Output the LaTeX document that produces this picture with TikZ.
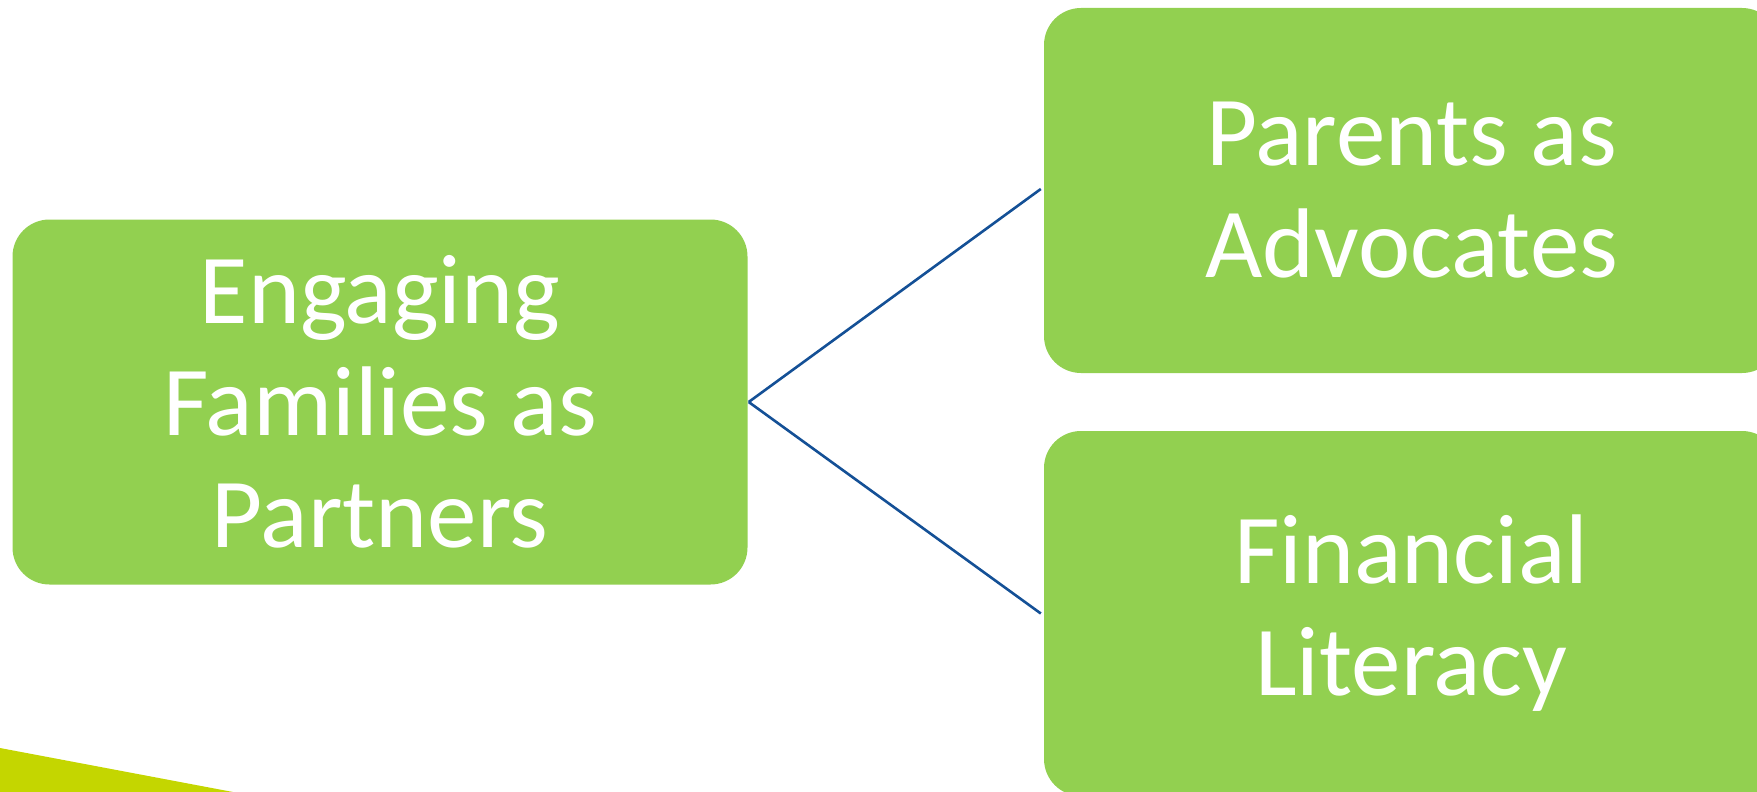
\documentclass[tikz,border=0pt]{standalone}
\usepackage{fontspec}
\setmainfont{Carlito}
\definecolor{boxgreen}{RGB}{146,208,80}
\definecolor{linkblue}{RGB}{20,80,150}
\definecolor{limeaccent}{RGB}{196,214,0}
\begin{document}
\begin{tikzpicture}[x=1pt,y=-1pt,
  greenbox/.style={fill=boxgreen,draw=none,rounded corners=37pt,
    minimum width=735pt,minimum height=365pt,inner sep=0pt,
    text=white,align=center,font=\fontsize{99}{112}\selectfont},
  link/.style={draw=linkblue,line width=2.6pt}]
\useasboundingbox (0,0) rectangle (1757,792);
\fill[limeaccent] (0,748) -- (233,792) -- (0,792) -- cycle;
\node[greenbox] (left) at (380,402) {Engaging\\Families as\\Partners};
\node[greenbox] (top) at (1411.5,190.5) {Parents as\\Advocates};
\node[greenbox] (bot) at (1411.5,613.5) {Financial\\Literacy};
\draw[link] ([xshift=1pt]left.east) -- ([xshift=-3pt,yshift=1.5pt]top.west);
\draw[link] ([xshift=1pt]left.east) -- ([xshift=-3pt]bot.west);
\end{tikzpicture}
\end{document}
